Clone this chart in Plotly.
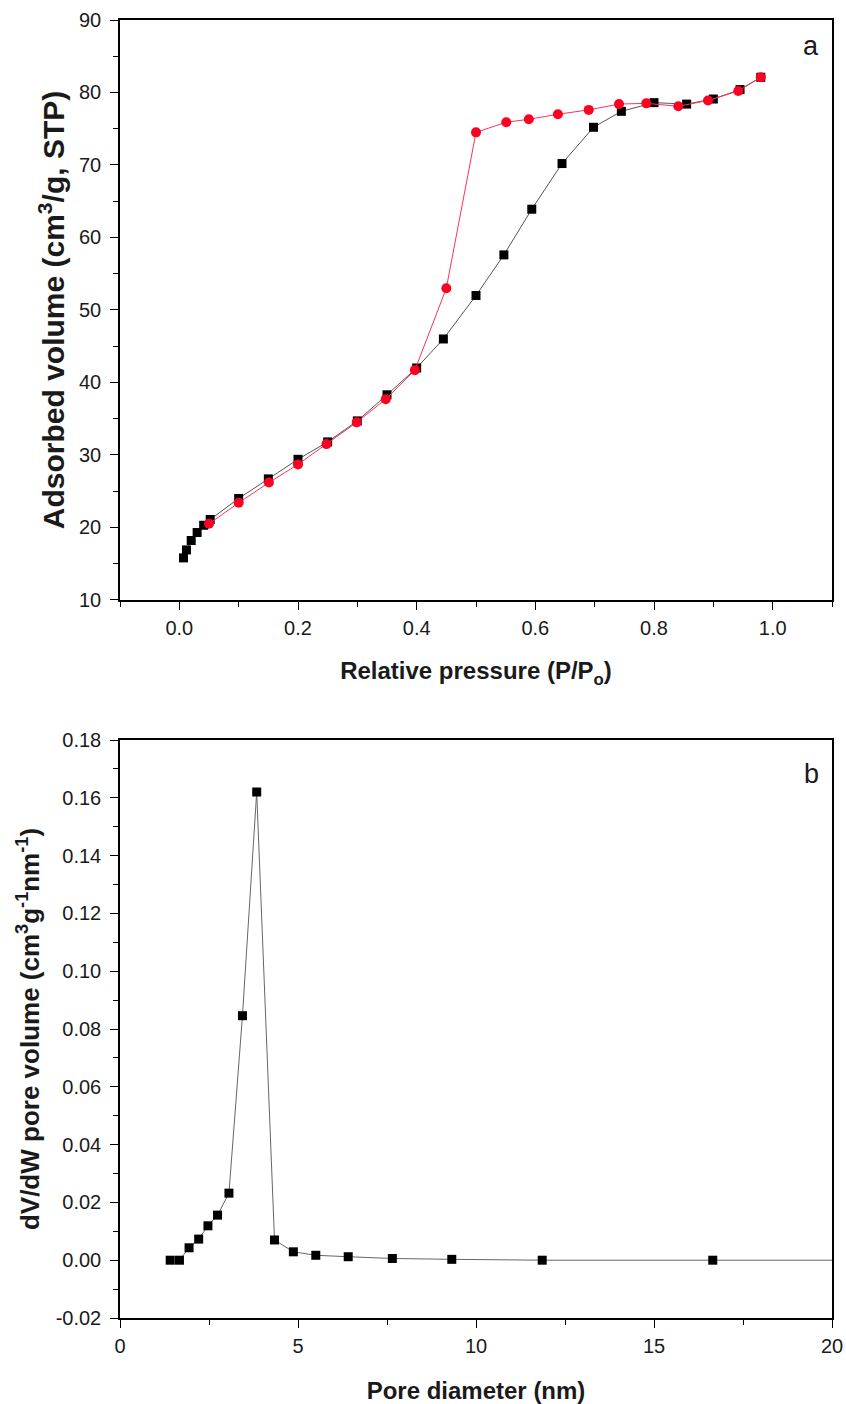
import plotly.graph_objects as go
from plotly.subplots import make_subplots

# Panel a: N2 isotherm
ads_p = [0.007, 0.012, 0.02, 0.03, 0.041, 0.052, 0.10, 0.15, 0.20, 0.25, 0.30, 0.35,
         0.40, 0.445, 0.50, 0.547, 0.594, 0.645, 0.698, 0.745, 0.80, 0.855, 0.90, 0.945, 0.98]
ads_v = [15.8, 16.9, 18.2, 19.3, 20.3, 21.1, 24.0, 26.7, 29.4, 31.8, 34.7, 38.3,
         42.0, 46.0, 52.0, 57.6, 63.9, 70.2, 75.2, 77.4, 78.6, 78.4, 79.1, 80.4, 82.1]
des_p = [0.98, 0.942, 0.891, 0.841, 0.787, 0.741, 0.69, 0.638, 0.589, 0.551, 0.50, 0.45,
         0.397, 0.348, 0.299, 0.248, 0.20, 0.151, 0.10, 0.05]
des_v = [82.1, 80.2, 78.9, 78.1, 78.5, 78.4, 77.6, 77.0, 76.3, 75.9, 74.5, 53.0,
         41.7, 37.7, 34.5, 31.5, 28.7, 26.2, 23.4, 20.5]

# Panel b: pore size distribution
pore_d = [1.41, 1.67, 1.94, 2.21, 2.47, 2.74, 3.06, 3.44, 3.84, 4.34, 4.87, 5.50,
          6.41, 7.65, 9.32, 11.86, 16.65, 25.0]
pore_v = [0.0, 0.0, 0.0043, 0.0073, 0.0119, 0.0156, 0.0232, 0.0846, 0.162, 0.0070,
          0.0029, 0.0017, 0.0012, 0.0006, 0.0003, 0.0, 0.0, 0.0]

b_yticks = [-0.02, 0.0, 0.02, 0.04, 0.06, 0.08, 0.10, 0.12, 0.14, 0.16, 0.18]
b_yticktext = ["-0.02", "0.00", "0.02", "0.04", "0.06", "0.08", "0.10", "0.12", "0.14", "0.16", "0.18"]

FONT = "Liberation Sans, Arial, sans-serif"
TXT = "#1a1a1a"

fig = make_subplots(rows=2, cols=1, vertical_spacing=0.1079)
fig.update_yaxes(domain=[0.5532, 1.0], row=1, col=1)
fig.update_yaxes(domain=[0.0, 0.4453], row=2, col=1)

fig.add_trace(go.Scatter(x=ads_p, y=ads_v, mode="lines+markers",
                         line=dict(color="#555555", width=1),
                         marker=dict(symbol="square", size=9, color="black"),
                         showlegend=False), row=1, col=1)
fig.add_trace(go.Scatter(x=des_p, y=des_v, mode="lines+markers",
                         line=dict(color="#ff3355", width=1),
                         marker=dict(symbol="circle", size=10, color="#ff0022"),
                         showlegend=False), row=1, col=1)
fig.add_trace(go.Scatter(x=pore_d, y=pore_v, mode="lines+markers",
                         line=dict(color="#666666", width=1),
                         marker=dict(symbol="square", size=9, color="black"),
                         cliponaxis=True, showlegend=False), row=2, col=1)

axis_common = dict(showline=True, linecolor="black", linewidth=1.5, mirror=True,
                   ticks="outside", ticklen=8, tickwidth=1.2, tickcolor="black",
                   showgrid=False, zeroline=False, automargin=False,
                   ticklabeloverflow="allow",
                   tickfont=dict(family=FONT, size=20, color=TXT))

fig.update_xaxes(axis_common, range=[-0.1, 1.1], tick0=0, dtick=0.2, tickformat=".1f",
                 minor=dict(dtick=0.1, tick0=0, ticklen=5, ticks="outside", tickcolor="black"),
                 ticklabelstandoff=1,
                 title=dict(text="<b>Relative pressure (P/P<sub>o</sub>)</b>", standoff=25,
                            font=dict(family=FONT, size=24, color=TXT)),
                 row=1, col=1)
fig.update_yaxes(axis_common, range=[10, 90], tick0=10, dtick=10,
                 minor=dict(dtick=5, tick0=10, ticklen=5, ticks="outside", tickcolor="black"),
                 ticklabelstandoff=5,
                 title=dict(text="<b>Adsorbed volume (cm<sup>3</sup>/g, STP)</b>", standoff=5,
                            font=dict(family=FONT, size=30, color=TXT)),
                 row=1, col=1)
fig.update_xaxes(axis_common, range=[0, 20], tick0=0, dtick=5,
                 minor=dict(dtick=2.5, tick0=0, ticklen=5, ticks="outside", tickcolor="black"),
                 ticklabelstandoff=1,
                 title=dict(text="<b>Pore diameter (nm)</b>", standoff=27,
                            font=dict(family=FONT, size=24, color=TXT)),
                 row=2, col=1)
fig.update_yaxes(axis_common, range=[-0.02, 0.18], tickvals=b_yticks, ticktext=b_yticktext,
                 minor=dict(dtick=0.01, tick0=0, ticklen=5, ticks="outside", tickcolor="black"),
                 ticklabelstandoff=5,
                 title=dict(text="<b>dV/dW pore volume (cm<sup>3</sup>g<sup>-1</sup>nm<sup>-1</sup>)</b>",
                            standoff=9, font=dict(family=FONT, size=26, color=TXT)),
                 row=2, col=1)

fig.add_annotation(text="a", xref="x domain", yref="y domain", x=0.985, y=0.985,
                   xanchor="right", yanchor="top", showarrow=False,
                   font=dict(family=FONT, size=27, color=TXT))
fig.add_annotation(text="b", xref="x2 domain", yref="y2 domain", x=0.985, y=0.97,
                   xanchor="right", yanchor="top", showarrow=False,
                   font=dict(family=FONT, size=27, color=TXT))

fig.update_layout(width=846, height=1404, plot_bgcolor="white", paper_bgcolor="white",
                  margin=dict(l=120, r=14, t=20, b=86),
                  font=dict(family=FONT))

# Remove the default page margin so the figure fills the window exactly; hide the modebar.
fig.write_html("out.html", config={"displayModeBar": False},
               post_script="document.body.style.margin='0';document.body.style.overflow='hidden';")
